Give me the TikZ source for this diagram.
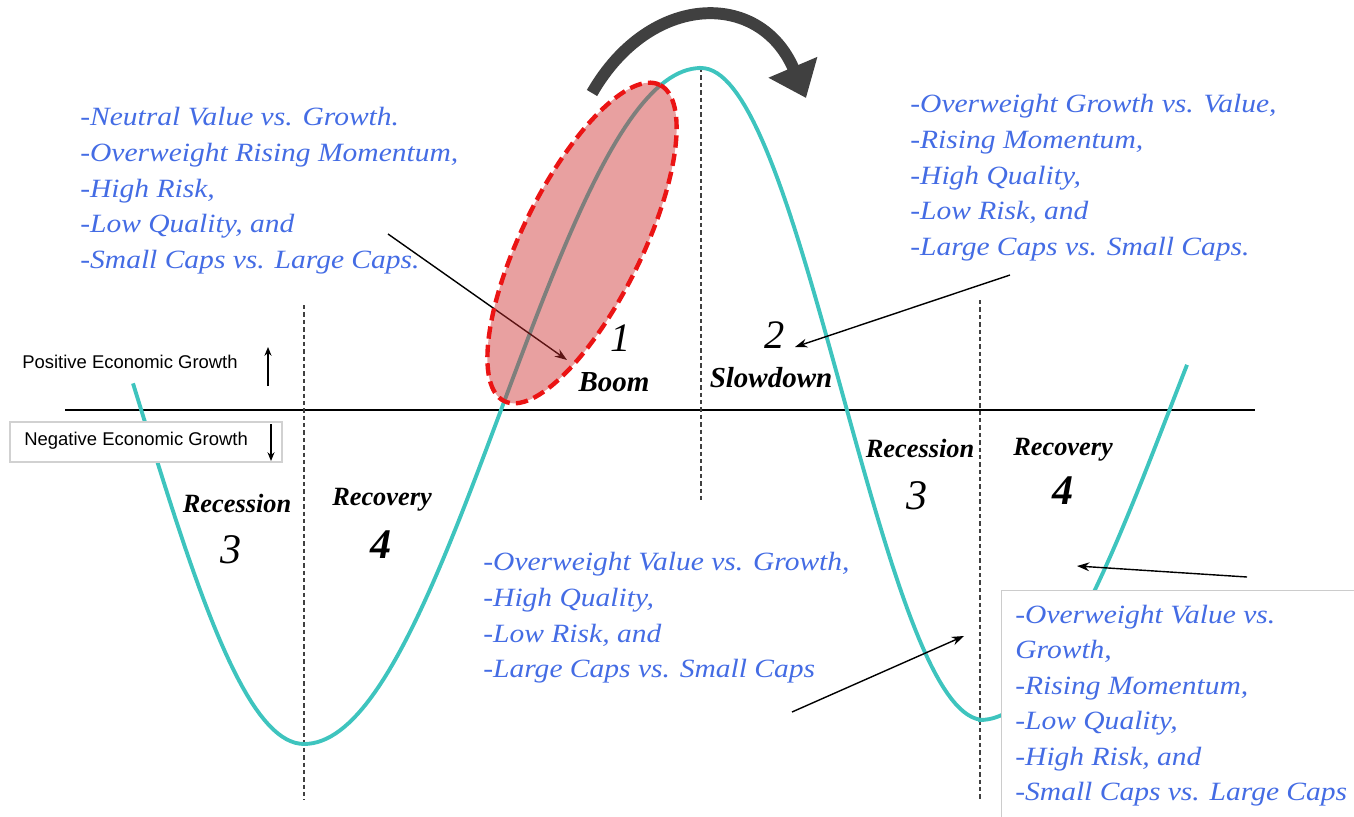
\documentclass[tikz,border=0pt]{standalone}
\usepackage{fontspec}
\setmainfont{Liberation Serif}
\newfontfamily\bluefont[FakeStretch=1.12]{Liberation Serif}
\newfontfamily\sanslbl{Liberation Sans}
\usetikzlibrary{arrows.meta,shapes.geometric}
\definecolor{tealc}{RGB}{62,196,190}
\definecolor{bluetxt}{RGB}{68,108,228}
\definecolor{darkarrow}{RGB}{64,64,64}
\definecolor{ellfill}{RGB}{205,45,45}
\definecolor{ellline}{RGB}{235,20,20}
\tikzset{
  curveline/.style={draw=tealc, line width=2.2pt},
  vdash/.style={draw=black!75, dash pattern=on 2.5pt off 1.7pt, line width=0.6pt},
  axisline/.style={draw=black, line width=0.9pt},
  bluetext/.style={text=bluetxt, font=\bluefont\itshape\fontsize{15}{20.4}\selectfont, align=left, anchor=north west, inner sep=0pt},
  phaselbl/.style={font=\bfseries\itshape\fontsize{15}{18}\selectfont, inner sep=0pt},
  numlbl/.style={font=\itshape\fontsize{23}{26}\selectfont, inner sep=0pt},
  ptr/.style={draw=black, line width=0.8pt, -{Stealth[length=7pt,width=5pt]}},
  sanstxt/.style={font=\sanslbl\fontsize{10.5}{12}\selectfont, inner sep=0pt, anchor=west},
  smallarrow/.style={draw=black, line width=0.7pt, -{Stealth[length=5pt,width=4pt]}},
}
\begin{document}
\begin{tikzpicture}[x=0.02cm, y=-0.02cm]
\useasboundingbox (0,0) rectangle (1354,817);
% axis
\coordinate (axL) at (65,410);
\coordinate (axR) at (1255,410);
\draw[axisline] (axL) -- (axR);
% dashed vertical lines
\draw[vdash] (304,305) -- (304,800);
\draw[vdash] (701,68) -- (701,502);
\draw[vdash] (980,300) -- (980,800);
% business cycle curve
\draw[curveline]
  plot[domain=133:304, samples=40] (\x, {406+338*cos((304-\x)/328*180)})
  -- plot[domain=304:701, samples=90] (\x, {406+338*cos((\x-304)/397*180)})
  -- plot[domain=701:980, samples=70] (\x, {394-326*cos((\x-701)/283*180)})
  -- plot[domain=980:1187, samples=50] (\x, {406+314*cos((\x-980)/382*180)});
% negative growth box
\node[draw=black!18, fill=white, line width=0.8pt, minimum width=272*0.02cm, minimum height=40*0.02cm, inner sep=0pt] (negbox) at (146,442) {};
\node[sanstxt] (negtxt) at (24,441) {Negative Economic Growth};
\node[sanstxt] (postxt) at (22,362) {Positive Economic Growth};
\coordinate (upA) at (268,386);
\coordinate (upB) at (268,347);
\draw[smallarrow] (upA) -- (upB);
\coordinate (dnA) at (271,424);
\coordinate (dnB) at (271,461);
\draw[smallarrow] (dnA) -- (dnB);
% lower-right box
\node[draw=black!20, fill=white, line width=0.8pt, anchor=north west, minimum width=380*0.02cm, minimum height=250*0.02cm, inner sep=0pt] (rbox) at (1001,590) {};
% pointer arrows
\coordinate (p1s) at (388,234);
\coordinate (p1e) at (567,360);
\draw[ptr] (p1s) -- (p1e);
\coordinate (p2s) at (1010,275);
\coordinate (p2e) at (795,347);
\draw[ptr] (p2s) -- (p2e);
\coordinate (p3s) at (792,712);
\coordinate (p3e) at (964,636);
\draw[ptr] (p3s) -- (p3e);
\coordinate (p4s) at (1247,577);
\coordinate (p4e) at (1077,566);
\draw[ptr] (p4s) -- (p4e);
% highlighted ellipse
\node[ellipse, draw=ellline, fill=ellfill, fill opacity=0.45, draw opacity=1, line width=2.5pt, dash pattern=on 7pt off 3.5pt, minimum width=7.05cm, minimum height=2.4cm, inner sep=0pt, rotate=63.8] (boom) at (582,243) {};
% big curved arrow
\coordinate (bigA) at (592,93);
\coordinate (bigB) at (806,98);
\draw[darkarrow, line width=6.8pt, -{Triangle[length=19pt,width=29pt]}] (bigA) .. controls (650,-8) and (760,-10) .. (bigB);
% phase labels
\node[numlbl] (n1) at (621,338) {1};
\node[phaselbl, font=\bfseries\itshape\fontsize{16.5}{18}\selectfont] (boomlbl) at (614,382) {Boom};
\node[numlbl] (n2) at (775,335) {2};
\node[phaselbl, font=\bfseries\itshape\fontsize{16.5}{18}\selectfont] (slowlbl) at (771,378) {Slowdown};
\node[phaselbl] (recL) at (237,503) {Recession};
\node[numlbl, font=\itshape\fontsize{24}{26}\selectfont] (n3L) at (231,550) {3};
\node[phaselbl] (recoL) at (382,500) {Recovery};
\node[numlbl, font=\bfseries\itshape\fontsize{24}{26}\selectfont] (n4L) at (381,545) {4};
\node[phaselbl] (recR) at (920,448) {Recession};
\node[numlbl, font=\itshape\fontsize{24}{26}\selectfont] (n3R) at (917,496) {3};
\node[phaselbl] (recoR) at (1063,450) {Recovery};
\node[numlbl, font=\bfseries\itshape\fontsize{24}{26}\selectfont] (n4R) at (1063,491) {4};
% blue texts
\node[bluetext] (txtA) at (80,100) {\strut-Neutral Value vs. Growth.\\-Overweight Rising Momentum,\\-High Risk,\\-Low Quality, and\\-Small Caps vs. Large Caps.};
\node[bluetext] (txtB) at (910,87) {\strut-Overweight Growth vs. Value,\\-Rising Momentum,\\-High Quality,\\-Low Risk, and\\-Large Caps vs. Small Caps.};
\node[bluetext] (txtC) at (483,545) {\strut-Overweight Value vs. Growth,\\-High Quality,\\-Low Risk, and\\-Large Caps vs. Small Caps};
\node[bluetext, font=\bluefont\itshape\fontsize{15}{20.2}\selectfont] (txtD) at (1015,598) {\strut-Overweight Value vs.\\Growth,\\-Rising Momentum,\\-Low Quality,\\-High Risk, and\\-Small Caps vs. Large Caps};
\end{tikzpicture}
\end{document}
